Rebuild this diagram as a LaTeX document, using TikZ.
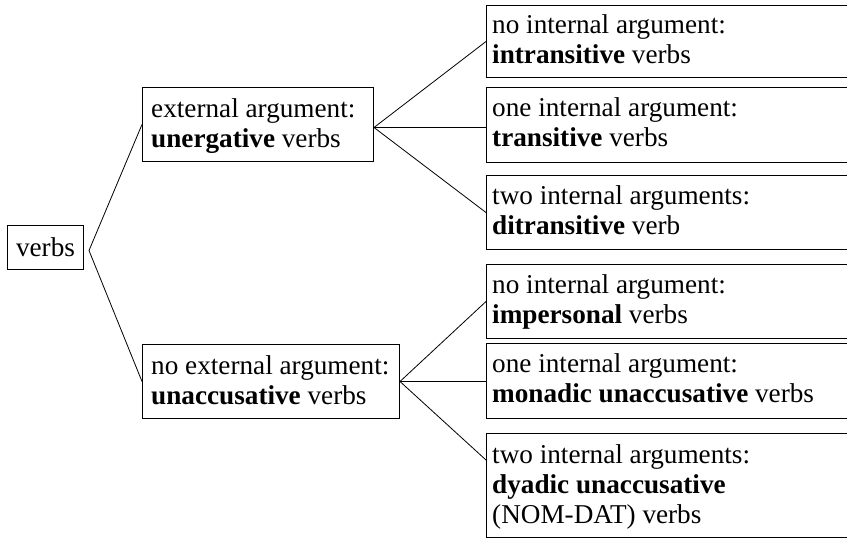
\documentclass[tikz,border=0pt]{standalone}
\usepackage{fontspec}
\setmainfont{Liberation Serif}
\usetikzlibrary{calc}
\begin{document}
\begin{tikzpicture}[x=1pt,y=-1pt,
  box/.style={draw=black, line width=1pt, inner sep=0pt, anchor=north west},
  lbl/.style={anchor=base west, inner sep=0pt, align=left, font=\fontsize{27.2}{30}\selectfont},
  link/.style={draw=black, line width=0.8pt}]
\useasboundingbox (0,0) rectangle (847,539);
\clip (0,0) rectangle (847,539);
% boxes
\node[box, minimum width=76pt, minimum height=44pt, font=\fontsize{27.2}{30}\selectfont] (verbs) at (7,225) {verbs};
\node[box, minimum width=231pt, minimum height=74pt] (unerg) at (142,87) {};
\node[box, minimum width=257pt, minimum height=74pt] (unacc) at (142,344) {};
\node[box, minimum width=420pt, minimum height=72pt] (b1) at (486,5) {};
\node[box, minimum width=420pt, minimum height=75pt] (b2) at (486,87) {};
\node[box, minimum width=420pt, minimum height=74pt] (b3) at (486,175) {};
\node[box, minimum width=420pt, minimum height=74pt] (b4) at (486,264) {};
\node[box, minimum width=420pt, minimum height=75pt] (b5) at (486,343) {};
\node[box, minimum width=420pt, minimum height=104pt] (b6) at (486,433) {};
% labels (base anchor = baseline of the last line)
\node[lbl] (tunerg) at ($(unerg.north west)+(9,60)$) {external argument:\\\textbf{unergative} verbs};
\node[lbl] (tunacc) at ($(unacc.north west)+(9,60)$) {no external argument:\\\textbf{unaccusative} verbs};
\node[lbl] (t1) at ($(b1.north west)+(6,58)$) {no internal argument:\\\textbf{intransitive} verbs};
\node[lbl] (t2) at ($(b2.north west)+(6,59)$) {one internal argument:\\\textbf{transitive} verbs};
\node[lbl] (t3) at ($(b3.north west)+(6,59)$) {two internal arguments:\\\textbf{ditransitive} verb};
\node[lbl] (t4) at ($(b4.north west)+(6,59)$) {no internal argument:\\\textbf{impersonal} verbs};
\node[lbl] (t5) at ($(b5.north west)+(6,59)$) {one internal argument:\\\textbf{monadic unaccusative} verbs};
\node[lbl] (t6) at ($(b6.north west)+(6,90)$) {two internal arguments:\\\textbf{dyadic unaccusative}\\(NOM-DAT) verbs};
% connectors
\coordinate (vA) at ($(verbs.east)+(5,3)$);
\draw[link] (unerg.west) -- (vA) -- (unacc.west);
\coordinate (uA) at ($(unerg.east)+(0,3)$);
\draw[link] (b1.west) -- (uA) -- (b3.west);
\draw[link] (uA) -- (b2.west |- uA);
\coordinate (b6in) at ($(b6.north west)+(0,27)$);
\draw[link] (b4.west) -- (unacc.east) -- (b6in);
\draw[link] (unacc.east) -- (b5.west |- unacc.east);
\end{tikzpicture}
\end{document}
